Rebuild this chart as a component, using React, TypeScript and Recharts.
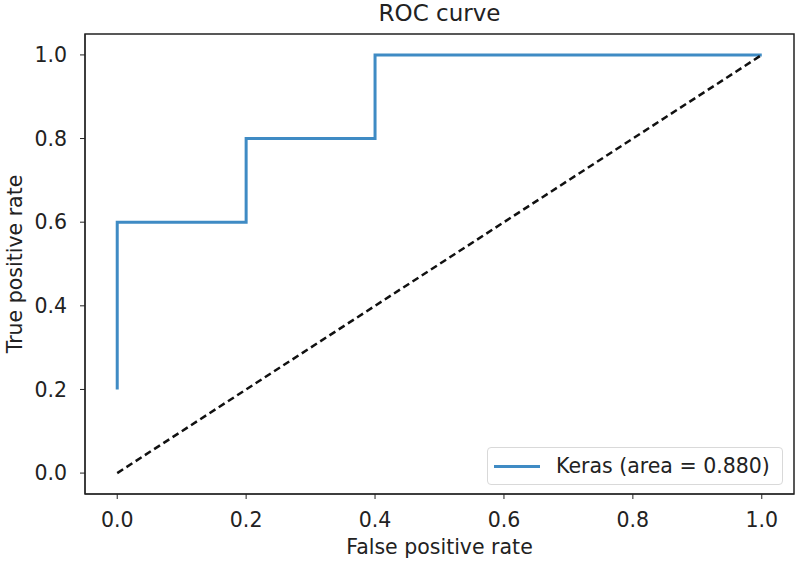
import { LineChart, Line, XAxis, YAxis, ReferenceArea } from 'recharts'

// ROC curve points (false positive rate, true positive rate)
const rocFpr = [0, 0, 0.2, 0.2, 0.4, 0.4, 1.0]
const rocTpr = [0.2, 0.6, 0.6, 0.8, 0.8, 1.0, 1.0]
const chanceFpr = [0, 1]
const chanceTpr = [0, 1]
const xTicks = [0, 0.2, 0.4, 0.6, 0.8, 1.0]
const yTicks = [0, 0.2, 0.4, 0.6, 0.8, 1.0]
const legendLabel = 'Keras (area = 0.880)'

const rocData = rocFpr.map((x, i) => ({ x, y: rocTpr[i] }))
const chanceData = chanceFpr.map((x, i) => ({ x, y: chanceTpr[i] }))

const FONT = '"DejaVu Sans", sans-serif'
const FS = 20.5
const BLUE = '#3f8bc4'

function LegendBox() {
  return (
    <div
      style={{
        position: 'absolute',
        left: 487,
        top: 447,
        width: 296,
        height: 38,
        border: '1px solid #d9d9d9',
        borderRadius: 4,
        background: '#fff',
        display: 'flex',
        alignItems: 'center',
        fontFamily: FONT,
        fontSize: FS,
        color: '#222',
        boxSizing: 'border-box',
        whiteSpace: 'nowrap',
      }}
    >
      <span style={{ display: 'inline-block', width: 46, height: 3, background: BLUE, marginLeft: 6, marginRight: 16 }} />
      <span>{legendLabel}</span>
    </div>
  )
}

export default function App() {
  const tickStyle = { fontFamily: FONT, fontSize: FS, fill: '#222' }
  return (
    <div style={{ position: 'absolute', left: 0, top: 0, width: 800, height: 565, background: '#fff' }}>
      <div
        style={{
          position: 'absolute',
          left: 0,
          width: 879,
          top: 2,
          textAlign: 'center',
          fontFamily: FONT,
          fontSize: 23,
          lineHeight: 1,
          color: '#222',
        }}
      >
        ROC curve
      </div>
      <LineChart width={800} height={565} margin={{ top: 34, right: 6, bottom: 24, left: 20 }}>
        <XAxis
          dataKey="x"
          type="number"
          domain={[-0.05, 1.05]}
          ticks={xTicks}
          tickFormatter={(v) => v.toFixed(1)}
          tickSize={5}
          tickMargin={13}
          tick={tickStyle}
          stroke="#222"
          height={47}
          allowDataOverflow
          label={{ value: 'False positive rate', position: 'insideBottom', offset: -13, style: { fontFamily: FONT, fontSize: FS, fill: '#222' } }}
        />
        <YAxis
          dataKey="y"
          type="number"
          domain={[-0.05, 1.05]}
          ticks={yTicks}
          tickFormatter={(v) => v.toFixed(1)}
          tickSize={5}
          tickMargin={13}
          tick={tickStyle}
          stroke="#222"
          width={65}
          allowDataOverflow
          label={{ value: 'True positive rate', angle: -90, position: 'insideLeft', offset: -5, style: { fontFamily: FONT, fontSize: FS, fill: '#222', textAnchor: 'middle' } }}
        />
        <ReferenceArea x1={-0.05} x2={1.05} y1={-0.05} y2={1.05} fill="none" stroke="#222" strokeWidth={1.5} ifOverflow="visible" />
        <Line
          data={rocData}
          dataKey="y"
          type="linear"
          stroke={BLUE}
          strokeWidth={3}
          dot={false}
          isAnimationActive={false}
        />
        <Line
          data={chanceData}
          dataKey="y"
          type="linear"
          stroke="#111"
          strokeWidth={2.5}
          strokeDasharray="7 4"
          dot={false}
          isAnimationActive={false}
        />
      </LineChart>
      <LegendBox />
    </div>
  )
}
